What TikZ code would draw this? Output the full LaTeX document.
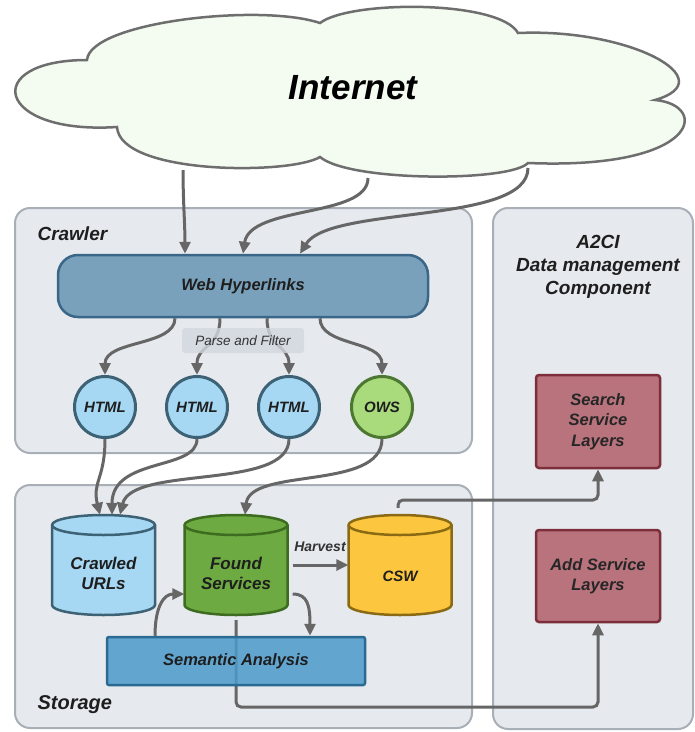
\documentclass[tikz,border=0pt]{standalone}
\usepackage{fontspec}
\setmainfont{Liberation Sans}
\usetikzlibrary{arrows.meta,calc}
\definecolor{grpfill}{HTML}{E6E9EE}
\definecolor{grpdraw}{HTML}{A9AFB7}
\definecolor{cloudfill}{HTML}{F4FBF1}
\definecolor{cloudline}{HTML}{6E6E6E}
\definecolor{arrowgray}{HTML}{666666}
\definecolor{whfill}{HTML}{7AA1BC}
\definecolor{whdraw}{HTML}{3A6787}
\definecolor{htmlfill}{HTML}{A6D8F4}
\definecolor{htmldraw}{HTML}{3E6275}
\definecolor{owsfill}{HTML}{A9DA7C}
\definecolor{owsdraw}{HTML}{4C7831}
\definecolor{fsfill}{HTML}{6DAB42}
\definecolor{fsdraw}{HTML}{3D6B1F}
\definecolor{cswfill}{HTML}{FDC63F}
\definecolor{cswdraw}{HTML}{8A6A12}
\definecolor{safill}{HTML}{4C9BCB}
\definecolor{sadraw}{HTML}{2A6A93}
\definecolor{redfill}{HTML}{B9737D}
\definecolor{reddraw}{HTML}{7C2F3B}
\definecolor{pffill}{HTML}{D3D8E0}
\definecolor{txt}{HTML}{1E1E1E}
\newcommand{\dbcyl}[4]{%
  \path[fill=#3,draw=#4,line width=2.5pt] (#1-51.5,#2-40) -- (#1-51.5,#2+40)
    arc[start angle=180,end angle=360,x radius=51.5pt,y radius=10pt] -- (#1+51.5,#2-40)
    arc[start angle=0,end angle=180,x radius=51.5pt,y radius=10pt] -- cycle;
  \draw[#4,line width=2.5pt] (#1-51.5,#2-40) arc[start angle=180,end angle=360,x radius=51.5pt,y radius=10pt];}
\begin{document}
\begin{tikzpicture}[x=1pt,y=-1pt,
  grp/.style={draw=grpdraw,fill=grpfill,line width=2pt,rounded corners=15pt},
  conn/.style={draw=arrowgray,line width=3pt,-{Triangle[length=12pt,width=11pt]}},
  bi/.style={font=\fontsize{#1}{#1}\selectfont\bfseries\itshape,text=txt},
  circnode/.style={circle,minimum size=61pt,inner sep=0pt,line width=3pt,bi=15},
  cylnode/.style={rectangle,minimum width=103pt,minimum height=100pt,inner sep=0pt},
  redbox/.style={rectangle,rounded corners=3pt,fill=redfill,draw=reddraw,line width=2.5pt,
    minimum width=124pt,align=center,font=\fontsize{16.5}{20.5}\selectfont\bfseries\itshape,text=black!85}]
\useasboundingbox (0,0) rectangle (695,732);
% groups
\path[grp] (15,208) rectangle (472,453);
\path[grp] (15,485) rectangle (472,728);
\path[grp] (493,208) rectangle (693,729);
\node[bi=19,anchor=west] (lcrawl) at (34,234) {Crawler};
\node[bi=20,anchor=west] (lstore) at (34,705) {Storage};
\node[align=center,font=\fontsize{19}{23}\selectfont\bfseries\itshape,text=txt] (la2ci) at (598,267) {A2CI\\Data management\\Component};
% cloud
\path[draw=cloudline,fill=cloudfill,line width=2.5pt]
  (117,127) .. controls (-5,135) and (-20,60) .. (87,60)
  .. controls (90,22) and (260,3) .. (320,23)
  .. controls (350,0) and (500,0) .. (518,33)
  .. controls (630,28) and (725,80) .. (655,100)
  .. controls (710,105) and (700,170) .. (528,163)
  .. controls (510,182) and (350,182) .. (320,157)
  .. controls (290,175) and (120,175) .. (117,127) -- cycle;
\node[bi=35,text=black] (inet) at (353,88) {Internet};
\coordinate (c1) at (183,170);
\coordinate (c2) at (368,178);
\coordinate (c3) at (528,168);
% crawler content
\node[rectangle,rounded corners=20pt,minimum width=370pt,minimum height=62pt,fill=whfill,draw=whdraw,line width=2.5pt,bi=16.5] (wh) at (243,286) {Web Hyperlinks};
\node[circnode,fill=htmlfill,draw=htmldraw] (h1) at (105,407) {HTML};
\node[circnode,fill=htmlfill,draw=htmldraw] (h2) at (197,407) {HTML};
\node[circnode,fill=htmlfill,draw=htmldraw] (h3) at (289,407) {HTML};
\node[circnode,fill=owsfill,draw=owsdraw] (ows) at (382,407) {OWS};
% internet arrows
\draw[conn] (c1) .. controls (183,200) and (185,225) .. ([xshift=-58pt]wh.north);
\draw[conn] (c2) .. controls (368,218) and (250,205) .. (wh.north);
\draw[conn] (c3) .. controls (528,225) and (330,205) .. ([xshift=57pt]wh.north);
% parse arrows
\draw[conn] ([xshift=-68pt]wh.south) .. controls +(0,28) and +(0,-35) .. (h1.north);
\draw[conn] ([xshift=-23pt]wh.south) .. controls +(0,30) and +(0,-30) .. (h2.north);
\draw[conn] ([xshift=24pt]wh.south) .. controls +(0,30) and +(0,-30) .. (h3.north);
\draw[conn] ([xshift=77pt]wh.south) .. controls +(0,28) and +(0,-35) .. (ows.north);
\node[rectangle,rounded corners=3pt,fill=pffill,fill opacity=0.8,text opacity=1,minimum width=122pt,minimum height=25pt,inner sep=0pt,font=\fontsize{13.5}{13.5}\selectfont\itshape,text=black!80] (pf) at (243,340.5) {Parse and Filter};
% storage
\dbcyl{103.5}{565}{htmlfill}{htmldraw}
\dbcyl{236}{565}{fsfill}{fsdraw}
\dbcyl{400}{565}{cswfill}{cswdraw}
\node[cylnode] (cu) at (103.5,565) {};
\node[cylnode] (fs) at (236,565) {};
\node[cylnode] (csw) at (400,565) {};
\node[align=center,font=\fontsize{17}{20}\selectfont\bfseries\itshape,text=txt] (tcu) at (103.5,573) {Crawled\\URLs};
\node[align=center,font=\fontsize{17}{20}\selectfont\bfseries\itshape,text=txt] (tfs) at (236,573) {Found\\Services};
\node[bi=15] (tcsw) at (400,576) {CSW};
% crawler to storage arrows
\draw[conn] (h1.south) .. controls +(0,40) and +(-8,-33) .. ([xshift=-3.5pt]cu.north);
\draw[conn] (h2.south) .. controls +(0,32) and +(0,-58) .. ([xshift=8.5pt]cu.north);
\draw[conn] (h3.south) .. controls +(0,52) and +(12,-50) .. ([xshift=16.5pt]cu.north);
\draw[conn] (ows.south) .. controls +(0,52) and +(5,-48) .. ([xshift=9pt]fs.north);
% harvest
\draw[conn] ([xshift=5pt]fs.east) -- (csw.west);
\node[bi=14,text=black!80] (hv) at (320,547) {Harvest};
% A2CI boxes
\node[redbox,minimum height=93pt] (srch) at (598,421.5) {Search\\Service\\Layers};
\node[redbox,minimum height=92pt] (add) at (598,576) {Add Service\\Layers};
% long connectors
\coordinate (busA) at (236,707);
\coordinate (busB) at (398,500);
\draw[conn,rounded corners=5pt] ([yshift=-5pt]fs.south) -- (busA) -| (add.south);
\draw[conn,rounded corners=5pt] ([xshift=-2pt,yshift=7pt]csw.north) -- (busB) -| (srch.south);
% semantic analysis
\node[rectangle,rounded corners=2pt,fill=safill,fill opacity=0.85,text opacity=1,draw=sadraw,line width=2.5pt,minimum width=258pt,minimum height=48pt,bi=16.5] (sa) at (236,661) {Semantic Analysis};
\draw[conn] ([xshift=-81pt]sa.north) .. controls +(0,-30) and +(-20,0) .. ([yshift=-29pt]fs.west);
\draw[conn] ([xshift=5pt,yshift=-29pt]fs.east) .. controls +(15,0) and +(0,-30) .. ([xshift=74pt]sa.north);
\end{tikzpicture}
\end{document}
